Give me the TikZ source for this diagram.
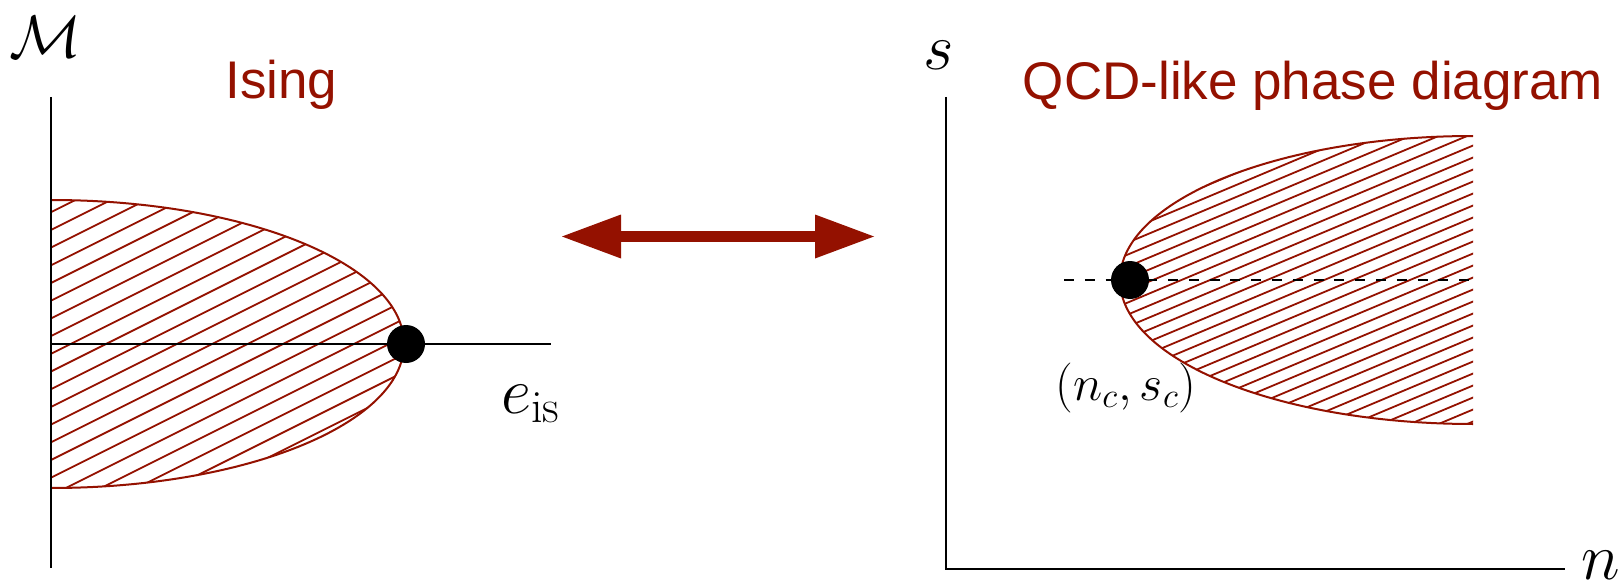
\RequirePackage{fix-cm}
\documentclass[tikz,border=0pt]{standalone}
\usepackage{fontspec}
\newfontfamily\helv{Liberation Sans}
\usetikzlibrary{arrows.meta}
\definecolor{cay}{HTML}{941100}
\begin{document}
\begin{tikzpicture}[x=0.5pt,y=-0.5pt,
  axis/.style={line width=1pt,black},
  bound/.style={line width=1pt,cay},
  hatch/.style={line width=0.9pt,cay},
  title/.style={font=\helv\fontsize{26.5}{30}\selectfont,text=cay,inner sep=0pt},
  mlabel/.style={font=\fontsize{33}{38}\selectfont,inner sep=0pt},
  slabel/.style={font=\fontsize{25}{30}\selectfont,inner sep=0pt},
  cpt/.style={circle,fill=black,minimum size=19pt,inner sep=0pt},
  dashline/.style={black,line width=1.2pt,dash pattern=on 5pt off 5.4pt},
  bigarrow/.style={cay,line width=5.85pt,
    {Triangle[length=29.5pt,width=22pt,line width=0pt]}-{Triangle[length=29.5pt,width=22pt,line width=0pt]}}
]
\useasboundingbox (0,0) rectangle (1623,583);

% ---------- left panel: Ising ----------
\begin{scope}
  \clip (51,200) arc[start angle=90,end angle=-90,x radius=176.5pt,y radius=72pt] -- cycle;
  \foreach \b in {200,217.7,...,720} \draw[hatch] (40,\b) -- (460,\b-210);
\end{scope}
\draw[bound] (51,200) arc[start angle=90,end angle=-90,x radius=176.5pt,y radius=72pt];
\draw[axis] (51,97) -- (51,568);
\draw[axis] (51,344) -- (551,344);
\node[cpt] (cL) at (406,344) {};
\node[font=\fontsize{30}{36}\selectfont,inner sep=0pt] (M) at (46,37) {$\mathcal{M}$};
\node[mlabel,anchor=base west] (eis) at (501,413) {$e_{\mathrm{is}}$};
\node[title,anchor=base] (tI) at (281.5,99) {Ising};

% ---------- arrow ----------
\coordinate (aL) at (562,236.5);
\coordinate (aR) at (874,236.5);
\draw[bigarrow] (aL) -- (aR);

% ---------- right panel: QCD-like ----------
\begin{scope}
  \clip (1473,136) arc[start angle=90,end angle=270,x radius=176.5pt,y radius=72pt] -- cycle;
  \foreach \b in {130,142,...,800} \draw[hatch] (1110,\b) -- (1480,\b-155.4);
\end{scope}
\draw[bound] (1473,136) arc[start angle=90,end angle=270,x radius=176.5pt,y radius=72pt];
\draw[axis] (946,97) -- (946,569) -- (1565,569);
\coordinate (dL) at (1064,280);
\coordinate (dR) at (1473,280);
\draw[dashline] (dL) -- (dR);
\node[cpt] (cR) at (1130,280) {};
\node[mlabel,anchor=base west] (s) at (923,70) {$s$};
\node[mlabel,anchor=base west] (n) at (1581,579) {$n$};
\node[slabel,anchor=base west] (nc) at (1055,400) {$(n_c,s_c)$};
\node[title,anchor=base] (tQ) at (1313,100) {QCD-like phase diagram};
\end{tikzpicture}
\end{document}
